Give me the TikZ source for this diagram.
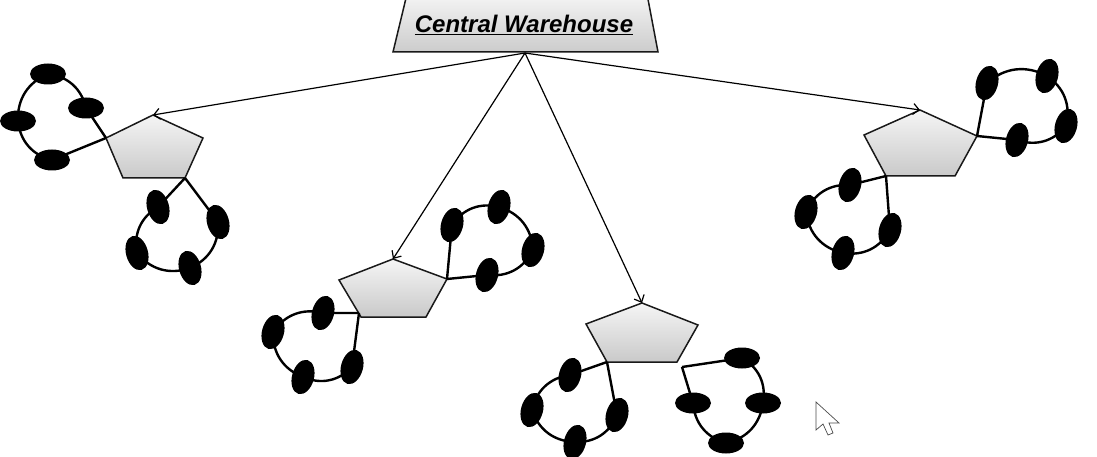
\documentclass[tikz,border=0pt]{standalone}
\usepackage{fontspec}
\setmainfont{Liberation Sans}
\usetikzlibrary{arrows.meta,shapes.geometric}
\begin{document}
\begin{tikzpicture}[x=1pt,y=-1pt,
  depot/.style={draw=black!90,line width=1.5pt,line join=miter,top color=gray!8,bottom color=gray!42},
  house/.style={draw=black!90,line width=1.5pt,top color=gray!8,bottom color=gray!40},
  feed/.style={line width=1.2pt,-{Straight Barb[length=6pt,width=11pt]}},
  loopline/.style={line width=2.4pt},
  rb/.style={bend left=35},
  hcust/.style={ellipse,fill=black,inner sep=0pt,minimum width=36pt,minimum height=21pt},
  vcust/.style={ellipse,fill=black,inner sep=0pt,minimum width=22pt,minimum height=35pt},
  cursor/.style={draw=black!70,line width=0.7pt,fill=white}]
\useasboundingbox (0,0) rectangle (1097,457);
\clip (0,0) rectangle (1097,457);
% central warehouse
\draw[house] (407,-6) -- (647,-6) -- (658,52) -- (393,52) -- cycle;
\node (whlabel) at (524,25) {\fontsize{24}{27}\selectfont\bfseries\itshape\underline{Central Warehouse}};
\coordinate (wh) at (525,53);
% depots
\draw[depot] (153,115) coordinate (d1) -- (203,138) -- (185,178) coordinate (d1br) -- (123,178) -- (106,138) coordinate (d1l) -- cycle;
\draw[depot] (393,259) coordinate (d2) -- (447,279) coordinate (d2r) -- (426,317) -- (361,317) -- (339,280) -- cycle;
\draw[depot] (642,303) coordinate (d3) -- (698,325) -- (677,362) -- (607,362) coordinate (d3bl) -- (586,324) -- cycle;
\draw[depot] (920,110) coordinate (d4) -- (977,136) coordinate (d4r) -- (955,176) -- (886,176) coordinate (d4bl) -- (864,135) -- cycle;
\coordinate (d2bl) at (359,313);
\coordinate (s3) at (682,367);
% feeding arrows
\draw[feed] (wh) -- (d1);
\draw[feed] (wh) -- (d2);
\draw[feed] (wh) -- (d3);
\draw[feed] (wh) -- (d4);
% customer positions
\coordinate (a1) at (86,108); \coordinate (a2) at (48,74); \coordinate (a3) at (18,121); \coordinate (a4) at (52,160);
\coordinate (b1) at (158,207); \coordinate (b2) at (137,253); \coordinate (b3) at (190,268); \coordinate (b4) at (218,222);
\coordinate (c1) at (452,225); \coordinate (c2) at (499,207); \coordinate (c3) at (533,250); \coordinate (c4) at (487,275);
\coordinate (e1) at (323,313); \coordinate (e2) at (273,332); \coordinate (e3) at (303,377); \coordinate (e4) at (352,367);
\coordinate (f1) at (570,375); \coordinate (f2) at (532,410); \coordinate (f3) at (575,442); \coordinate (f4) at (617,415);
\coordinate (g1) at (742,358); \coordinate (g2) at (763,403); \coordinate (g3) at (726,443); \coordinate (g4) at (693,403);
\coordinate (h1) at (987,83); \coordinate (h2) at (1047,76); \coordinate (h3) at (1066,126); \coordinate (h4) at (1017,140);
\coordinate (k1) at (850,185); \coordinate (k2) at (806,212); \coordinate (k3) at (843,253); \coordinate (k4) at (890,230);
% routes
\draw[loopline] (d1l) -- (a4) to[rb] (a3) to[rb] (a2) to[rb] (a1) -- (d1l);
\draw[loopline] (d1br) -- (b4) to[rb] (b3) to[rb] (b2) to[rb] (b1) -- (d1br);
\draw[loopline] (d2r) -- (c1) to[rb] (c2) to[rb] (c3) to[rb] (c4) -- (d2r);
\draw[loopline] (d2bl) -- (e4) to[rb] (e3) to[rb] (e2) to[rb] (e1) -- (d2bl);
\draw[loopline] (d3bl) -- (f4) to[rb] (f3) to[rb] (f2) to[rb] (f1) -- (d3bl);
\draw[loopline] (s3) -- (g1) to[rb] (g2) to[rb] (g3) to[rb] (g4) -- (s3);
\draw[loopline] (d4r) -- (h1) to[rb] (h2) to[rb] (h3) to[rb] (h4) -- (d4r);
\draw[loopline] (d4bl) -- (k4) to[rb] (k3) to[rb] (k2) to[rb] (k1) -- (d4bl);
% customers
\foreach \p in {a1,a2,a3,a4,g1,g2,g3,g4} \node[hcust] at (\p) {};
\foreach \p in {b1,b2,b3,b4} \node[vcust,rotate=15] at (\p) {};
\foreach \p in {c1,c2,c3,c4,e1,e2,e3,e4,f1,f2,f3,f4,h1,h2,h3,h4,k1,k2,k3,k4} \node[vcust,rotate=-15] at (\p) {};
% cursor
\draw[cursor] (816,402) -- (816,430) -- (823,424) -- (828,435) -- (833,433) -- (829,423) -- (839,423) -- cycle;
\end{tikzpicture}
\end{document}
